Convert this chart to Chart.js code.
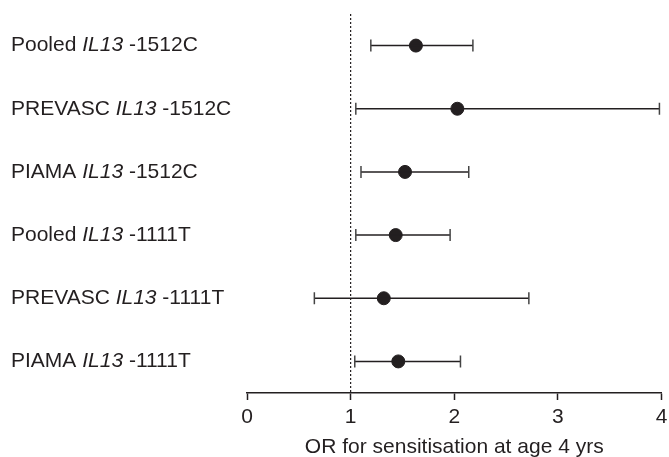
<!DOCTYPE html>
<html>
<head>
<meta charset="utf-8">
<script src="https://cdn.jsdelivr.net/npm/chart.js@4/dist/chart.umd.min.js"></script>
<style>
  html, body { margin: 0; padding: 0; background: #fff; }
  #wrap { width: 669px; height: 457px; }
</style>
</head>
<body>
<div id="wrap"><canvas id="forest"></canvas></div>
<script>
// rows, top to bottom
const studies = ["Pooled", "PREVASC", "PIAMA", "Pooled", "PREVASC", "PIAMA"];
const gene = "IL13";
const variants = ["-1512C", "-1512C", "-1512C", "-1111T", "-1111T", "-1111T"];

// odds ratios + 95% CI
const oddsRatio = [1.63, 2.03, 1.525, 1.435, 1.32, 1.46];
const ciLow = [1.195, 1.05, 1.10, 1.05, 0.65, 1.04];
const ciHigh = [2.18, 3.98, 2.14, 1.96, 2.72, 2.06];

const xTicks = [0, 1, 2, 3, 4];
const refLine = 1;
const xTitle = "OR for sensitisation at age 4 yrs";

const ink = "#231f20";
const fontFam = "'Liberation Sans', Arial, Helvetica, sans-serif";

// one line dataset per CI, vertical caps drawn as point style "line"
const ciSets = oddsRatio.map((v, i) => ({
  type: "line",
  data: [{ x: ciLow[i], y: i }, { x: ciHigh[i], y: i }],
  borderColor: ink,
  borderWidth: 1.5,
  pointStyle: "line",
  rotation: 90,
  pointRadius: 6,
  pointBorderColor: "#444",
  pointBorderWidth: 1.5,
  pointHoverRadius: 6,
}));

// row labels with italic gene name, placed on the y scale
const rowLabels = {
  id: "rowLabels",
  afterDraw(chart) {
    const ctx = chart.ctx;
    const y = chart.scales.y;
    ctx.save();
    ctx.fillStyle = ink;
    ctx.textBaseline = "middle";
    studies.forEach((s, i) => {
      const py = y.getPixelForValue(i);
      let px = 11;
      const parts = [
        [s + " ", "normal"],
        [gene, "italic"],
        [" " + variants[i], "normal"],
      ];
      parts.forEach(([t, st]) => {
        ctx.font = `${st} 21px ${fontFam}`;
        ctx.fillText(t, px, py);
        px += ctx.measureText(t).width;
      });
    });
    ctx.restore();
  },
};

new Chart(document.getElementById("forest"), {
  type: "scatter",
  data: {
    datasets: [
      {
        type: "line",
        data: [{ x: refLine, y: -0.5 }, { x: refLine, y: 5.5 }],
        borderColor: ink,
        borderWidth: 1.2,
        borderDash: [2, 2],
        pointRadius: 0,
        pointHoverRadius: 0,
      },
      ...ciSets,
      {
        type: "scatter",
        data: oddsRatio.map((v, i) => ({ x: v, y: i })),
        backgroundColor: ink,
        borderColor: ink,
        pointRadius: 6.5,
        pointHoverRadius: 6.5,
      },
    ],
  },
  options: {
    responsive: true,
    maintainAspectRatio: false,
    animation: false,
    layout: { padding: { left: 247, top: 14, right: 0, bottom: 0 } },
    plugins: {
      legend: { display: false },
      tooltip: { enabled: false },
    },
    scales: {
      x: {
        type: "linear",
        min: 0,
        max: 4,
        afterBuildTicks: (s) => {
          s.ticks = xTicks.map((v) => ({ value: v }));
        },
        grid: {
          drawOnChartArea: false,
          drawTicks: true,
          tickLength: 7,
          tickWidth: 1.5,
          color: ink,
        },
        border: { display: true, color: ink, width: 1.5 },
        ticks: {
          color: ink,
          padding: 5,
          maxRotation: 0,
          font: { family: fontFam, size: 21 },
        },
        title: {
          display: true,
          text: xTitle,
          color: ink,
          padding: { top: 0, bottom: -3 },
          font: { family: fontFam, size: 21 },
        },
        afterFit: (s) => {
          s.height = 64;
          s.paddingRight = 6;
        },
      },
      y: {
        type: "linear",
        min: -0.5,
        max: 5.5,
        reverse: true,
        display: false,
      },
    },
  },
  plugins: [rowLabels],
});
</script>
</body>
</html>
